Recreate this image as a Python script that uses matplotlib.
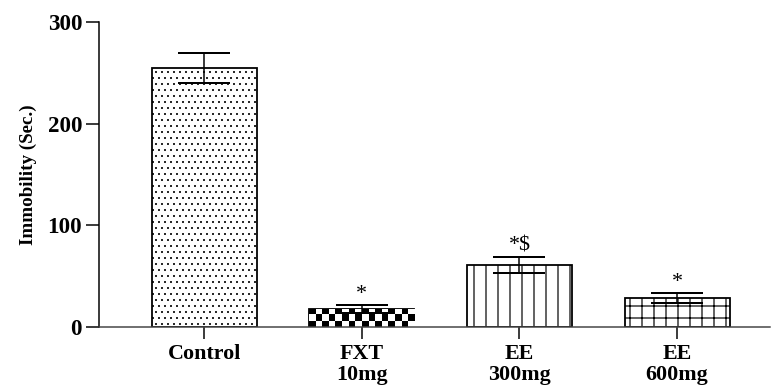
import matplotlib
matplotlib.use("Agg")
import matplotlib.pyplot as plt
import numpy as np

# data
groups = ['Control', 'FXT\n10mg', 'EE\n300mg', 'EE\n600mg']
means = [255, 18, 61, 29]
errors = [15, 4, 8, 5]
marks = ['', '*', '*$', '*']
hatches = ['..', None, '|', '+']

plt.rcParams['font.family'] = ['Liberation Serif', 'DejaVu Serif']
plt.rcParams['hatch.linewidth'] = 1.2

# dpi 72 -> 1 pt = 1 px
fig = plt.figure(figsize=(774 / 72, 388 / 72), dpi=72)
ax = fig.add_axes([0.128, 0.157, 0.867, 0.786])

x = np.arange(len(groups))
bars = ax.bar(x, means, width=0.666, color='white', edgecolor='black',
              linewidth=1.8, zorder=2)
for b, h in zip(bars, hatches):
    if h:
        b.set_hatch(h)
bars[0].set_hatch_linewidth(0.8) if hasattr(bars[0], 'set_hatch_linewidth') else None

# checkerboard fill for FXT, clipped to its bar
fxt = bars[1]
nx, ny = 16, 3
cells = (np.indices((ny, nx)).sum(axis=0) % 2).astype(float)
x0, w, hgt = fxt.get_x(), fxt.get_width(), fxt.get_height()
im = ax.imshow(cells, cmap='gray', interpolation='nearest', aspect='auto',
               extent=[x0, x0 + w, 0, hgt], origin='lower', zorder=2.5)
im.set_clip_path(fxt)

# error bars: black stem, grey caps
eb = ax.errorbar(x, means, yerr=errors, fmt='none', ecolor='black',
                 elinewidth=1.5, capsize=26, capthick=2, zorder=3)
for cap in eb[1]:
    cap.set_color('#666666')

for xi, m, e, s in zip(x, means, errors, marks):
    if s:
        ax.text(xi, m + e + 1, s, ha='center', va='bottom', fontsize=22)

ax.set_xlim(-0.666, 3.59)
ax.set_ylim(0, 300)
ax.set_yticks([0, 100, 200, 300])
ax.set_xticks(x)
ax.set_xticklabels(groups, fontsize=22, fontweight='bold', linespacing=1.05)
ax.tick_params(axis='y', labelsize=23, length=13, width=1.5, pad=4)
ax.tick_params(axis='x', length=12, width=1.5, pad=5)
for lab in ax.get_yticklabels():
    lab.set_fontweight('bold')
ax.set_ylabel('Immobility (Sec.)', fontsize=19, fontweight='bold', labelpad=10)

ax.spines['top'].set_visible(False)
ax.spines['right'].set_visible(False)
ax.spines['left'].set_linewidth(1.5)
ax.spines['bottom'].set_linewidth(1.5)
ax.spines['bottom'].set_color('#444444')

fig.savefig('out.png', dpi=72)
